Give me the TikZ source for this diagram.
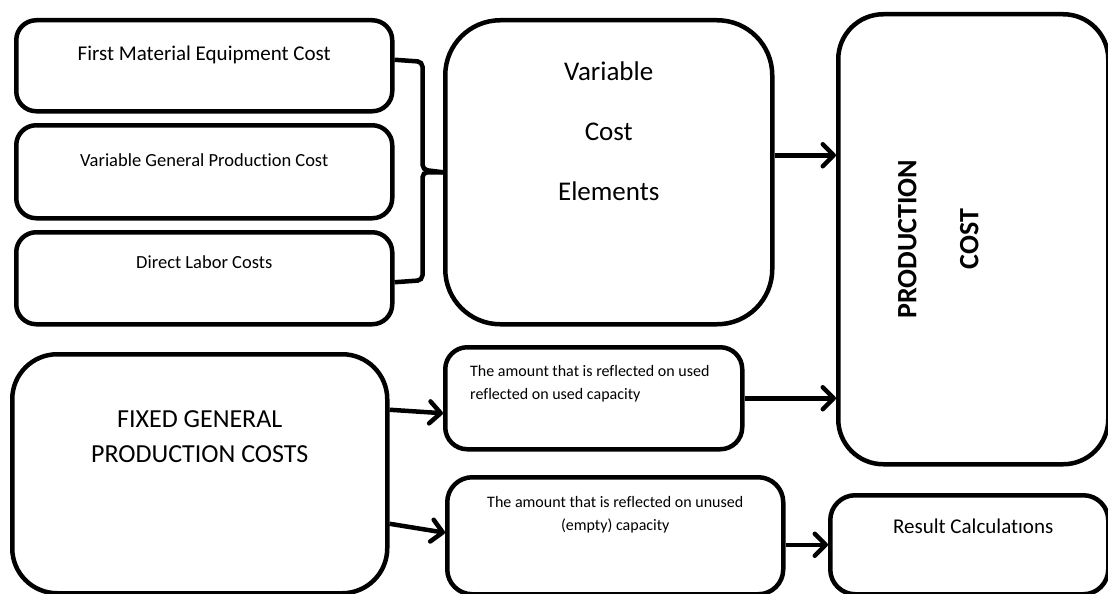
\documentclass[tikz,border=0pt]{standalone}
\usepackage{fontspec}
\setmainfont{Carlito}[Ligatures=NoCommon]
\usetikzlibrary{arrows.meta}
\usetikzlibrary{positioning}

\begin{document}
\begin{tikzpicture}[x=1pt,y=-1pt]
\tikzstyle{costbox}=[draw,line width=4.5pt,rounded corners=20pt,inner sep=0pt,anchor=north west]
\tikzstyle{boxtext}=[inner sep=0pt,anchor=center,align=center]
\tikzstyle{flow}=[line width=4.5pt,-{Straight Barb[length=11pt,width=22pt,round]}]
\useasboundingbox (0,0) rectangle (1108,594);
% variable cost items
\node[costbox,minimum width=376pt,minimum height=91pt] (fmec) at (14,18)
  {}; \node[boxtext,font=\fontsize{21}{25}\selectfont,below=28pt of fmec.north] (fmectext) {First Material Equipment Cost};
\node[costbox,minimum width=376pt,minimum height=93pt] (vgpc) at (14,123)
  {}; \node[boxtext,font=\fontsize{18.5}{22}\selectfont,below=30pt of vgpc.north] (vgpctext) {Variable General Production Cost};
\node[costbox,minimum width=376pt,minimum height=92pt] (dlc) at (14,230)
  {}; \node[boxtext,font=\fontsize{18.5}{22}\selectfont,below=25pt of dlc.north] (dlctext) {Direct Labor Costs};
\node[costbox,rounded corners=55pt,minimum width=327pt,minimum height=304pt] (vce) at (443,18)
  {}; \node[boxtext,font=\fontsize{27}{60}\selectfont,below=44pt of vce.north] (vcetext) {Variable\\Cost\\Elements};
% production cost
\node[costbox,rounded corners=45pt,minimum width=270pt,minimum height=450pt] (pc) at (836,12) {};
\node[boxtext,rotate=90,font=\bfseries\fontsize{28}{62}\selectfont,left=35pt of pc.center,anchor=center] (pctext) {PRODUCTION\\COST};
% fixed costs
\node[costbox,rounded corners=45pt,minimum width=375pt,minimum height=239pt] (fgpc) at (10,352)
  {}; \node[boxtext,font=\fontsize{26}{35}\selectfont,below=58pt of fgpc.north] (fgpctext) {FIXED GENERAL\\PRODUCTION COSTS};
\node[costbox,rounded corners=22pt,minimum width=297pt,minimum height=102pt] (used) at (443,345) {};
\node[inner sep=0pt,anchor=north west,align=left,font=\fontsize{16}{23}\selectfont] (usedtext)
  at ([xshift=27pt,yshift=-20pt]used.north west) {The amount that is reflected on used\\reflected on used capacity};
\node[costbox,rounded corners=25pt,minimum width=336pt,minimum height=117pt] (unused) at (445,475)
  {}; \node[boxtext,font=\fontsize{16}{23}\selectfont,below=21pt of unused.north] (unusedtext) {The amount that is reflected on unused\\(empty) capacity};
\node[costbox,rounded corners=25pt,minimum width=278pt,minimum height=99pt] (rc) at (828,493)
  {}; \node[boxtext,font=\fontsize{21}{25}\selectfont,below=26pt of rc.north,xshift=4pt] (rctext) {Result Calculatıons};
% bracket
\draw[line width=4.5pt,rounded corners=5pt] ([yshift=6pt]fmec.east) -- ++(28,2) -- ++(0,108) -- (vce.west);
\draw[line width=4.5pt,rounded corners=5pt] ([yshift=-4pt]dlc.east) -- ++(28,-2) -- ++(0,-108) -- (vce.west);
% arrows
\draw[flow] ([yshift=17pt]vce.east) -- ([yshift=17pt]vce.east -| pc.west);
\draw[flow] (used.east) -- (used.east -| pc.west);
\draw[flow] ([yshift=64pt]fgpc.east) -- ([yshift=-15pt]used.west);
\draw[flow] ([yshift=-50pt]fgpc.east) -- ([yshift=3pt]unused.west);
\draw[flow] (rc.west -| unused.east) -- (rc.west);
\end{tikzpicture}
\end{document}
